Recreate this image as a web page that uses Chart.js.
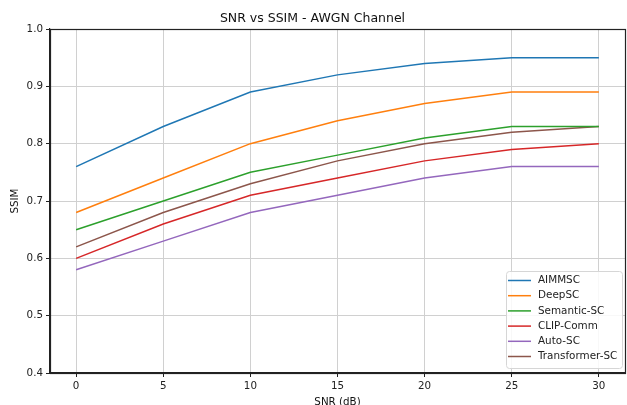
<!DOCTYPE html>
<html><head><meta charset="utf-8">
<script src="https://cdn.jsdelivr.net/npm/chart.js@4"></script>
<style>html,body{margin:0;padding:0;background:#fff}#w{width:627px;height:405px}</style>
</head><body><div id="w"><canvas id="c" width="627" height="405"></canvas></div>
<script>
const snr = [0, 5, 10, 15, 20, 25, 30];
const seriesNames = ["AIMMSC", "DeepSC", "Semantic-SC", "CLIP-Comm", "Auto-SC", "Transformer-SC"];
const aimmsc = [0.76, 0.83, 0.89, 0.92, 0.94, 0.95, 0.95];
const deepsc = [0.68, 0.74, 0.80, 0.84, 0.87, 0.89, 0.89];
const semanticSc = [0.65, 0.70, 0.75, 0.78, 0.81, 0.83, 0.83];
const clipComm = [0.60, 0.66, 0.71, 0.74, 0.77, 0.79, 0.80];
const autoSc = [0.58, 0.63, 0.68, 0.71, 0.74, 0.76, 0.76];
const transformerSc = [0.62, 0.68, 0.73, 0.77, 0.80, 0.82, 0.83];
const xTicks = [0, 5, 10, 15, 20, 25, 30];
const yTicks = [0.4, 0.5, 0.6, 0.7, 0.8, 0.9, 1.0];
const colors = ["#1f77b4", "#ff7f0e", "#2ca02c", "#d62728", "#9467bd", "#8c564b"];
const allSeries = [aimmsc, deepsc, semanticSc, clipComm, autoSc, transformerSc];
const FONT = "'DejaVu Sans', sans-serif";

const datasets = allSeries.map((vals, i) => ({
  label: seriesNames[i],
  data: vals.map((v, j) => ({x: snr[j], y: v})),
  borderColor: colors[i],
  backgroundColor: colors[i],
  borderWidth: 1.5,
  pointRadius: 0,
  tension: 0,
  fill: false
}));

const framePlugin = {
  id: 'frame',
  afterDatasetsDraw(chart) {
    const {ctx, chartArea: a} = chart;
    ctx.save();
    ctx.strokeStyle = '#222';
    ctx.lineWidth = 1.2;
    ctx.strokeRect(a.left + 0.5, a.top + 0.5, a.right - a.left, a.bottom - a.top);
    ctx.restore();
  },
  afterDraw(chart) {
    const {ctx} = chart;
    const bx = 506, by = 271, bw = 116, bh = 97;
    ctx.save();
    ctx.fillStyle = 'rgba(255,255,255,0.85)';
    ctx.strokeStyle = '#d6d6d6';
    ctx.lineWidth = 1;
    ctx.beginPath();
    ctx.roundRect(bx + 0.5, by + 0.5, bw, bh, 3);
    ctx.fill();
    ctx.stroke();
    ctx.font = '10.4px ' + FONT;
    ctx.textBaseline = 'middle';
    ctx.textAlign = 'left';
    chart.data.datasets.forEach((ds, i) => {
      const y = 280.5 + i * 15.2;
      ctx.strokeStyle = ds.borderColor;
      ctx.lineWidth = 1.5;
      ctx.beginPath();
      ctx.moveTo(508, y);
      ctx.lineTo(531, y);
      ctx.stroke();
      ctx.fillStyle = '#222';
      ctx.fillText(ds.label, 538, y);
    });
    ctx.restore();
  }
};

new Chart(document.getElementById('c'), {
  type: 'line',
  data: {datasets},
  plugins: [framePlugin],
  options: {
    responsive: false,
    animation: false,
    devicePixelRatio: 1,
    layout: {padding: {left: 0, right: 2, top: 0, bottom: 0}},
    plugins: {
      legend: {display: false},
      tooltip: {enabled: false},
      title: {
        display: true,
        text: 'SNR vs SSIM - AWGN Channel',
        color: '#111',
        font: {family: FONT, size: 12.5, weight: 'normal', lineHeight: 1.2},
        padding: {top: 11.5, bottom: 2.5}
      }
    },
    scales: {
      x: {
        type: 'linear',
        min: -1.5,
        max: 31.5,
        afterBuildTicks(s) { s.ticks = xTicks.map(v => ({value: v})); },
        afterFit(s) { s.height = 32; },
        ticks: {color: '#222', font: {family: FONT, size: 10.3}, padding: 3, maxRotation: 0,
                callback: v => String(v)},
        grid: {color: '#d0d0d0', lineWidth: 1, tickLength: 4, tickColor: '#222'},
        border: {color: '#222', width: 1.2},
        title: {display: true, text: 'SNR (dB)', color: '#111',
                font: {family: FONT, size: 10.3}, padding: {top: 0, bottom: -4}}
      },
      y: {
        min: 0.4,
        max: 1.0,
        afterBuildTicks(s) { s.ticks = yTicks.map(v => ({value: v})); },
        afterFit(s) { s.width = 50; },
        ticks: {color: '#222', font: {family: FONT, size: 10.3}, padding: 3,
                callback: v => Number(v).toFixed(1)},
        grid: {color: '#d0d0d0', lineWidth: 1, tickLength: 4, tickColor: '#222'},
        border: {color: '#222', width: 1.2},
        title: {display: true, text: 'SSIM', color: '#111',
                font: {family: FONT, size: 10.3}, padding: {top: 9, bottom: 0}}
      }
    }
  }
});
</script>
</body></html>
